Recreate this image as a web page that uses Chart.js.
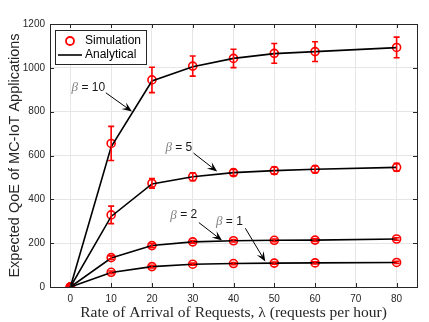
<!DOCTYPE html>
<html>
<head>
<meta charset="utf-8">
<script src="https://cdn.jsdelivr.net/npm/chart.js@4.4.0/dist/chart.umd.min.js"></script>
<style>
  html, body { margin: 0; padding: 0; background: #fff; }
  #wrap { width: 429px; height: 322px; }
</style>
</head>
<body>
<div id="wrap"><canvas id="qoeChart" width="429" height="322"></canvas></div>
<script>
// request rate lambda (requests per hour)
const lambdas = [0, 10, 20, 30, 40, 50, 60, 80];
const xTicks = [0, 10, 20, 30, 40, 50, 60, 70, 80];
const yTicks = [0, 200, 400, 600, 800, 1000, 1200];

// simulation means and error half-widths
const simBeta10 = [0, 655, 945, 1008, 1043, 1066, 1074, 1093];
const errBeta10 = [0, 78, 58, 46, 42, 45, 45, 47];
const simBeta5 = [0, 329, 473, 503, 522, 531, 537, 546];
const errBeta5 = [0, 40, 22, 18, 14, 16, 15, 18];
const simBeta2 = [0, 134, 189, 206, 211, 213, 214, 219];
const errBeta2 = [0, 8, 8, 6, 6, 6, 6, 6];
const simBeta1 = [0, 67, 93, 104, 107, 109, 110, 112];
const errBeta1 = [0, 6, 6, 5, 5, 5, 5, 5];

// analytical curves
const anaBeta10 = [0, 640, 940, 1005, 1043, 1065, 1074, 1092];
const anaBeta5 = [0, 322, 470, 503, 522, 531, 537, 546];
const anaBeta2 = [0, 132, 189, 206, 211, 213, 214, 219];
const anaBeta1 = [0, 66, 93, 104, 107, 109, 110, 112];

const beta = ["10", "5", "2", "1"];

// annotation text / arrow in data units
const notes = [
  { label: "10", tx: 4.4, ty: 910, x0: 8.7, y0: 886, x1: 15.1, y1: 801 },
  { label: "5", tx: 26.6, ty: 636, x0: 30.2, y0: 611, x1: 36.0, y1: 527 },
  { label: "2", tx: 27.8, ty: 328, x0: 31.5, y0: 294, x1: 37.2, y1: 212 },
  { label: "1", tx: 39.0, ty: 298, x0: 42.9, y0: 268, x1: 47.8, y1: 116 }
];

const RED = "#ff0000";
const AXIS = "#262626";

function pts(ys) {
  return lambdas.map((x, i) => ({ x, y: ys[i] }));
}

const simSets = [simBeta10, simBeta5, simBeta2, simBeta1];
const errSets = [errBeta10, errBeta5, errBeta2, errBeta1];
const anaSets = [anaBeta10, anaBeta5, anaBeta2, anaBeta1];

const datasets = [];
anaSets.forEach((ys, k) => {
  datasets.push({
    label: "Analytical",
    beta: beta[k],
    data: pts(ys),
    showLine: true,
    borderColor: "#000",
    borderWidth: 1.6,
    pointRadius: 0,
    tension: 0
  });
});
simSets.forEach((ys, k) => {
  datasets.push({
    label: "Simulation",
    beta: beta[k],
    errors: errSets[k],
    data: pts(ys),
    showLine: false,
    pointStyle: "circle",
    pointRadius: 4,
    pointBorderWidth: 1.6,
    pointBorderColor: RED,
    pointBackgroundColor: (c) => (c.dataIndex === 0 ? RED : "rgba(0,0,0,0)")
  });
});

const errorBars = {
  id: "errorBars",
  afterDatasetsDraw(chart) {
    const { ctx, scales: { x, y } } = chart;
    ctx.save();
    ctx.strokeStyle = RED;
    ctx.lineWidth = 1.6;
    chart.data.datasets.forEach((ds) => {
      if (!ds.errors) return;
      ds.data.forEach((p, i) => {
        const e = ds.errors[i];
        if (!e) return;
        const px = x.getPixelForValue(p.x);
        const top = y.getPixelForValue(p.y + e);
        const bot = y.getPixelForValue(p.y - e);
        ctx.beginPath();
        ctx.moveTo(px, top); ctx.lineTo(px, bot);
        ctx.moveTo(px - 3, top); ctx.lineTo(px + 3, top);
        ctx.moveTo(px - 3, bot); ctx.lineTo(px + 3, bot);
        ctx.stroke();
      });
    });
    ctx.restore();
  }
};

const frame = {
  id: "frame",
  afterDraw(chart) {
    const { ctx, chartArea: a, scales: { x, y } } = chart;
    ctx.save();
    ctx.strokeStyle = AXIS;
    ctx.lineWidth = 1;
    ctx.strokeRect(Math.round(a.left) + 0.5, Math.round(a.top) + 0.5,
      Math.round(a.right - a.left), Math.round(a.bottom - a.top));
    ctx.beginPath();
    xTicks.forEach((v) => {
      const px = Math.round(x.getPixelForValue(v)) + 0.5;
      ctx.moveTo(px, a.bottom); ctx.lineTo(px, a.bottom - 4);
      ctx.moveTo(px, a.top); ctx.lineTo(px, a.top + 4);
    });
    yTicks.forEach((v) => {
      const py = Math.round(y.getPixelForValue(v)) + 0.5;
      ctx.moveTo(a.left, py); ctx.lineTo(a.left + 4, py);
      ctx.moveTo(a.right, py); ctx.lineTo(a.right - 4, py);
    });
    ctx.stroke();

    // legend box
    const lx = 55, ly = 30, lw = 91, lh = 34;
    ctx.fillStyle = "#fff";
    ctx.fillRect(lx, ly, lw, lh);
    ctx.strokeStyle = "#262626";
    ctx.strokeRect(lx + 0.5, ly + 0.5, lw, lh);
    ctx.strokeStyle = RED;
    ctx.lineWidth = 1.8;
    ctx.beginPath();
    ctx.arc(70, 41, 4, 0, Math.PI * 2);
    ctx.stroke();
    ctx.strokeStyle = "#000";
    ctx.lineWidth = 1.6;
    ctx.beginPath();
    ctx.moveTo(58, 55); ctx.lineTo(82, 55);
    ctx.stroke();
    ctx.fillStyle = "#000";
    ctx.font = "12px 'Liberation Sans', Arial, sans-serif";
    ctx.textBaseline = "middle";
    ctx.fillText("Simulation", 85, 41);
    ctx.fillText("Analytical", 85, 55);
    ctx.restore();
  }
};

const betaNotes = {
  id: "betaNotes",
  afterDraw(chart) {
    const { ctx, scales: { x, y } } = chart;
    ctx.save();
    notes.forEach((n) => {
      const tx = x.getPixelForValue(n.tx), ty = y.getPixelForValue(n.ty);
      ctx.textBaseline = "middle";
      ctx.font = "italic 13px 'Liberation Serif', serif";
      const bw = ctx.measureText("\u03b2").width;
      ctx.font = "12px 'Liberation Sans', Arial, sans-serif";
      const rest = " = " + n.label;
      const rw = ctx.measureText(rest).width;
      let sx = tx - (bw + rw) / 2;
      ctx.font = "italic 13px 'Liberation Serif', serif";
      ctx.fillStyle = "#808080";
      ctx.fillText("\u03b2", sx, ty);
      ctx.font = "12px 'Liberation Sans', Arial, sans-serif";
      ctx.fillStyle = "#1a1a1a";
      ctx.fillText(rest, sx + bw, ty);

      const x0 = x.getPixelForValue(n.x0), y0 = y.getPixelForValue(n.y0);
      const x1 = x.getPixelForValue(n.x1), y1 = y.getPixelForValue(n.y1);
      const ang = Math.atan2(y1 - y0, x1 - x0);
      ctx.strokeStyle = "#000";
      ctx.lineWidth = 1;
      ctx.beginPath();
      ctx.moveTo(x0, y0);
      ctx.lineTo(x1 - 6 * Math.cos(ang), y1 - 6 * Math.sin(ang));
      ctx.stroke();
      ctx.fillStyle = "#000";
      ctx.beginPath();
      ctx.moveTo(x1, y1);
      ctx.lineTo(x1 - 10 * Math.cos(ang) + 4 * Math.sin(ang), y1 - 10 * Math.sin(ang) - 4 * Math.cos(ang));
      ctx.lineTo(x1 - 6 * Math.cos(ang), y1 - 6 * Math.sin(ang));
      ctx.lineTo(x1 - 10 * Math.cos(ang) - 4 * Math.sin(ang), y1 - 10 * Math.sin(ang) + 4 * Math.cos(ang));
      ctx.closePath();
      ctx.fill();
    });
    ctx.restore();
  }
};

new Chart(document.getElementById("qoeChart"), {
  type: "scatter",
  data: { datasets },
  options: {
    responsive: false,
    animation: false,
    layout: { padding: { left: 0, right: 12, top: 24, bottom: 0 } },
    plugins: {
      legend: { display: false },
      tooltip: { enabled: false }
    },
    scales: {
      x: {
        type: "linear",
        min: -5,
        max: 85,
        afterBuildTicks: (s) => { s.ticks = xTicks.map((v) => ({ value: v })); },
        afterFit: (s) => { s.height = 35; },
        grid: { color: "#e6e6e6", drawTicks: false },
        border: { display: false },
        ticks: {
          color: AXIS,
          padding: 6,
          callback: (v) => String(v),
          font: { family: "'Liberation Sans', Arial, sans-serif", size: 10 }
        },
        title: {
          display: true,
          text: "Rate of Arrival of Requests, \u03bb (requests per hour)",
          color: AXIS,
          padding: { top: 1, bottom: 0 },
          font: { family: "'Liberation Serif', 'DejaVu Serif', serif", size: 15.5 }
        }
      },
      y: {
        type: "linear",
        min: 0,
        max: 1200,
        afterBuildTicks: (s) => { s.ticks = yTicks.map((v) => ({ value: v })); },
        afterFit: (s) => { s.width = 50; },
        grid: { color: "#e6e6e6", drawTicks: false },
        border: { display: false },
        ticks: {
          color: AXIS,
          padding: 5,
          callback: (v) => String(v),
          font: { family: "'Liberation Sans', Arial, sans-serif", size: 10 }
        },
        title: {
          display: true,
          text: "Expected QoE of MC-IoT Applications",
          color: AXIS,
          padding: { top: 6, bottom: 2 },
          font: { family: "'Liberation Sans', Arial, sans-serif", size: 14.5 }
        }
      }
    }
  },
  plugins: [errorBars, frame, betaNotes]
});
</script>
</body>
</html>
